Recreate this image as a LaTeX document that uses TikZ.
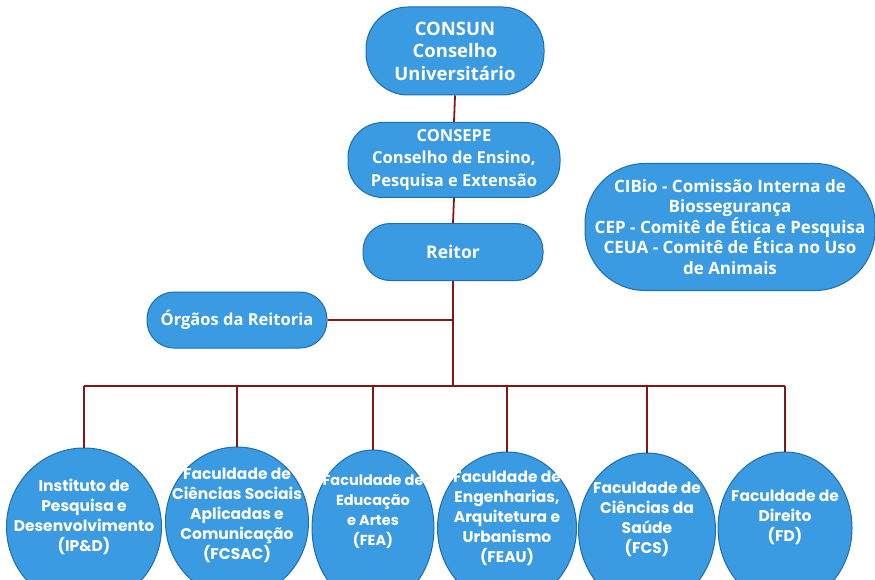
\documentclass[tikz,border=0pt]{standalone}
\usepackage{fontspec}
\setmainfont{Open Sans}
\newfontfamily\unitfont{Poppins}
\usetikzlibrary{shapes.geometric}
\definecolor{boxblue}{HTML}{3A9BE3}
\definecolor{boxedge}{HTML}{1E6DAE}
\definecolor{linkred}{HTML}{801818}
\tikzset{
    pill/.style={rectangle, draw=boxedge, line width=1pt, fill=boxblue,
        text=white, font=\bfseries\fontsize{16.5}{22}\selectfont, align=center, inner sep=0pt},
    unit/.style={ellipse, draw=boxedge, line width=1pt, fill=boxblue, inner sep=0pt},
    unittext/.style={text=white, font=\unitfont\bfseries\fontsize{15.5}{20}\selectfont, align=center},
    link/.style={draw=linkred, line width=1.8pt}
}
\begin{document}
\begin{tikzpicture}[x=1pt,y=-1pt]
            \useasboundingbox (0,0) rectangle (875,580);
            \clip (0,0) rectangle (875,580);

            \coordinate (bus) at (453,386);

            % governing bodies
            \node[pill,rounded corners=42pt,minimum width=178pt,minimum height=88pt,font=\bfseries\fontsize{18.5}{22.5}\selectfont] (consun) at (455,51) {CONSUN\\Conselho\\Universitário};
            \node[pill,rounded corners=35pt,minimum width=212pt,minimum height=75pt] (consepe) at (454,160) {CONSEPE\\Conselho de Ensino,\\Pesquisa e Extensão};
            \node[pill,rounded corners=27pt,minimum width=180pt,minimum height=57pt,font=\bfseries\fontsize{17.5}{22}\selectfont] (reitor) at (453,252) {Reitor};
            \node[pill,rounded corners=27pt,minimum width=180pt,minimum height=56pt] (orgaos) at (237,320) {Órgãos da Reitoria};
            \node[pill,rounded corners=60pt,minimum width=290pt,minimum height=127pt,font=\bfseries\fontsize{17}{20.5}\selectfont] (comissoes) at (730,227) {CIBio - Comissão Interna de\\Biossegurança\\CEP - Comitê de Ética e Pesquisa\\CEUA - Comitê de Ética no Uso\\de Animais};

            \draw[link] (consun.south) -- (consepe.north);
            \draw[link] (consepe.south) -- (reitor.north);
            \draw[link] (reitor.south) -- (bus);
            \draw[link] (orgaos.east) -- (orgaos.east -| bus);

            % academic units
            \node[unit,minimum width=155pt,minimum height=158pt,label={[unittext,yshift=10pt]center:Instituto de\\Pesquisa e\\Desenvolvimento\\(IP\&D)}] (ipd) at (84,527) {};
            \node[unit,minimum width=143pt,minimum height=150pt,label={[unittext,yshift=7pt]center:Faculdade de\\Ciências Sociais\\Aplicadas e\\Comunicação\\(FCSAC)}] (fcsac) at (237,522) {};
            \node[unit,minimum width=122pt,minimum height=156pt,label={[unittext,font=\unitfont\bfseries\fontsize{14.5}{20}\selectfont,yshift=16pt]center:Faculdade de\\Educação\\e Artes\\(FEA)}] (fea) at (373,528) {};
            \node[unit,minimum width=139pt,minimum height=152pt,label={[unittext,yshift=10pt]center:Faculdade de\\Engenharias,\\Arquitetura e\\Urbanismo\\(FEAU)}] (feau) at (507,528) {};
            \node[unit,minimum width=137pt,minimum height=154pt,label={[unittext,yshift=11pt]center:Faculdade de\\Ciências da\\Saúde\\(FCS)}] (fcs) at (647,530) {};
            \node[unit,minimum width=134pt,minimum height=152pt,label={[unittext,yshift=11pt]center:Faculdade de\\Direito\\(FD)}] (fd) at (785,528) {};

            \draw[link] (ipd.north |- bus) -- (fd.north |- bus);
            \foreach \u in {ipd,fcsac,fea,feau,fcs,fd}
                \draw[link] (\u.north |- bus) -- (\u.north);
\end{tikzpicture}
\end{document}
